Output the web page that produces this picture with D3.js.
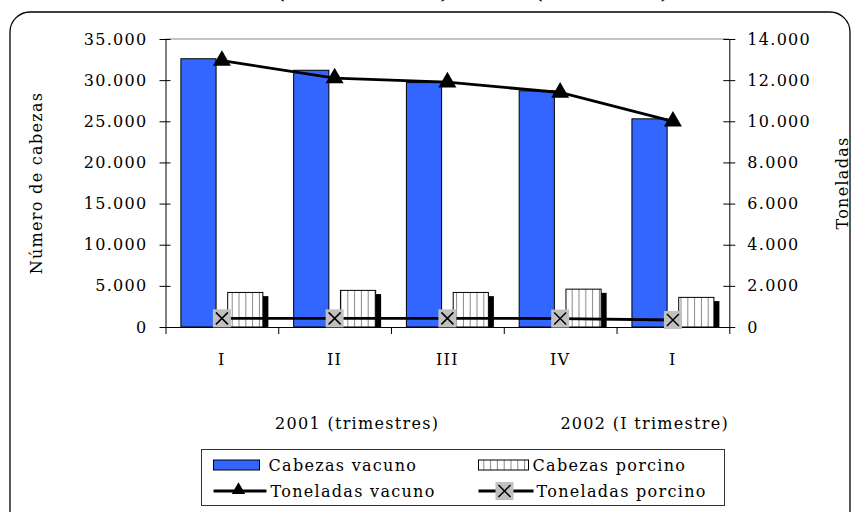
<!DOCTYPE html>
<html><head><meta charset="utf-8">
<script src="https://cdn.jsdelivr.net/npm/d3@7"></script>
<style>
body{margin:0;background:#fff}
text{font-family:"DejaVu Serif",serif;font-size:16px;letter-spacing:1.3px;fill:#000}
</style>
</head><body>
<svg id="c" width="856" height="512"></svg>
<script>
const categories = ["I","II","III","IV","I"];
const cabezasVacuno = [32600,31200,29700,28700,25300];
const cabezasPorcino = [4200,4450,4200,4600,3600];
const toneladasVacuno = [12950,12100,11900,11400,10000];
const toneladasPorcino = [420,420,420,410,340];
const leftTicks = [0,5000,10000,15000,20000,25000,30000,35000];
const rightTicks = [0,2000,4000,6000,8000,10000,12000,14000];
const groupLabels = ["2001 (trimestres)","2002 (I trimestre)"];
const groupPos = [1.7,4.25];
const seriesNames = ["Cabezas vacuno","Cabezas porcino","Toneladas vacuno","Toneladas porcino"];
const leftTitle = "Número de cabezas";
const rightTitle = "Toneladas";
const titleParts = ["Faenas de vacuno ","(número de cabezas)"," de carne ","(toneladas)"];

const svg = d3.select("#c");
const L = 165.5, R = 729.3, T = 39, B = 327;
const loc = d3.formatLocale({decimal:",",thousands:".",grouping:[3],currency:["",""]});
const fmt = loc.format(",");

const x = d3.scaleBand().domain(d3.range(categories.length)).range([L,R]).padding(0);
const xLin = d3.scaleLinear().domain([0,categories.length]).range([L,R]);
const inner = d3.scaleBand().domain(["v","p"]).range([0,x.bandwidth()]).paddingInner(0.248).paddingOuter(0.329);
const yL = d3.scaleLinear().domain([0,35000]).range([B,T]);
const yR = d3.scaleLinear().domain([0,14000]).range([B,T]);

// defs
const defs = svg.append("defs");
const pat = defs.append("pattern").attr("id","vl").attr("patternUnits","userSpaceOnUse")
  .attr("width",6.8).attr("height",10).attr("x",1.5);
pat.append("rect").attr("width",6.8).attr("height",10).attr("fill","#fff");
pat.append("line").attr("x1",6.3).attr("x2",6.3).attr("y1",0).attr("y2",10).attr("stroke","#8a8a8a").attr("stroke-width",1);

// chart border
svg.append("rect").attr("x",10).attr("y",12).attr("width",840).attr("height",530).attr("rx",20)
  .attr("fill","none").attr("stroke","#000").attr("stroke-width",1.3);

// title (cut off at the top edge as in the original)
const tStyle = s => s.style("font-weight","bold").style("font-size","16px").style("letter-spacing","0.6px");
svg.append("text").attr("x",276).attr("y",-1.5).attr("text-anchor","end").call(tStyle).text(titleParts[0]);
const tt = svg.append("text").attr("y",-1.5).call(tStyle);
tt.append("tspan").attr("x",277).attr("textLength",172).attr("lengthAdjust","spacing").text(titleParts[1]);
tt.append("tspan").text(titleParts[2]);
tt.append("tspan").attr("x",535).attr("textLength",134).attr("lengthAdjust","spacing").text(titleParts[3]);

// top gridline
svg.append("line").attr("x1",L).attr("x2",R).attr("y1",yL(35000)).attr("y2",yL(35000))
  .attr("stroke","#888").attr("stroke-width",1);

// bars vacuno
svg.append("g").selectAll("rect").data(cabezasVacuno).join("rect")
  .attr("x",(d,i)=>x(i)+inner("v")).attr("width",inner.bandwidth())
  .attr("y",d=>yL(d)).attr("height",d=>yL(0)-yL(d))
  .attr("fill","#3366FF").attr("stroke","#000").attr("stroke-width",1);

// porcino shadows + bars
svg.append("g").selectAll("rect").data(cabezasPorcino).join("rect")
  .attr("x",(d,i)=>x(i)+inner("p")+inner.bandwidth()).attr("width",5.5)
  .attr("y",d=>yL(d)+3.7).attr("height",d=>yL(0)-yL(d)-3.7).attr("fill","#000");
svg.append("g").selectAll("rect").data(cabezasPorcino).join("rect")
  .attr("x",(d,i)=>x(i)+inner("p")).attr("width",inner.bandwidth())
  .attr("y",d=>yL(d)).attr("height",d=>yL(0)-yL(d))
  .attr("fill","url(#vl)").attr("stroke","#000").attr("stroke-width",1);

// axes
const axL = svg.append("g").attr("transform",`translate(${L},0)`)
  .call(d3.axisLeft(yL).tickValues(leftTicks).tickFormat(fmt).tickSizeInner(6).tickSizeOuter(0).tickPadding(12));
axL.selectAll(".tick line").attr("x1",5);
const axR = svg.append("g").attr("transform",`translate(${R},0)`)
  .call(d3.axisRight(yR).tickValues(rightTicks).tickFormat(fmt).tickSizeInner(6).tickSizeOuter(0).tickPadding(12));
axR.selectAll(".tick line").attr("x1",-6);
const axB = svg.append("g").attr("transform",`translate(0,${B})`)
  .call(d3.axisBottom(xLin).tickValues(d3.range(categories.length+1)).tickFormat("").tickSizeInner(7).tickSizeOuter(0));
[axL,axR,axB].forEach(a=>{a.selectAll("path,line").attr("stroke","#000").attr("stroke-width",1);
  a.selectAll("text").style("font-family","DejaVu Serif").style("font-size","16px").attr("fill","#000");});

// category labels
svg.append("g").selectAll("text").data(categories).join("text")
  .attr("x",(d,i)=>x(i)+x.bandwidth()/2).attr("y",365).attr("text-anchor","middle").text(d=>d);
svg.append("g").selectAll("text").data(groupLabels).join("text")
  .attr("x",(d,i)=>xLin(groupPos[i])).attr("y",429).attr("text-anchor","middle").text(d=>d);

// axis titles
svg.append("text").attr("transform",`translate(42,${(T+B)/2}) rotate(-90)`).attr("text-anchor","middle").text(leftTitle);
svg.append("text").attr("transform",`translate(848,${(T+B)/2}) rotate(-90)`).attr("text-anchor","middle").text(rightTitle);

// lines
const cx = (d,i)=>x(i)+x.bandwidth()/2;
const lineV = d3.line().x((d,i)=>cx(d,i)).y(d=>yR(d));
svg.append("path").attr("d",lineV(toneladasVacuno)).attr("fill","none").attr("stroke","#000").attr("stroke-width",2.8);
svg.append("path").attr("d",lineV(toneladasPorcino)).attr("fill","none").attr("stroke","#000").attr("stroke-width",2.8);

const tri = d3.symbol(d3.symbolTriangle,140);
svg.append("g").selectAll("path").data(toneladasVacuno).join("path")
  .attr("transform",(d,i)=>`translate(${cx(d,i)},${yR(d)})`).attr("d",tri).attr("fill","#000");

function xMark(g,s){
  g.append("rect").attr("x",-s/2).attr("y",-s/2).attr("width",s).attr("height",s).attr("fill","#c0c0c0");
  const k = s/2-3;
  g.append("path").attr("d",`M${-k},${-k}L${k},${k}M${-k},${k}L${k},${-k}`).attr("stroke","#000").attr("stroke-width",1.5);
}
svg.append("g").selectAll("g").data(toneladasPorcino).join("g")
  .attr("transform",(d,i)=>`translate(${cx(d,i)},${yR(d)})`).each(function(){xMark(d3.select(this),18);});

// legend
const lg = svg.append("g");
lg.append("rect").attr("x",201.5).attr("y",449.5).attr("width",523).attr("height",56)
  .attr("fill","#fff").attr("stroke","#333").attr("stroke-width",1);
const colX = [213.5,478.5], rowY = [465,491], txtX = [268.5,532.5];
// Cabezas vacuno
lg.append("rect").attr("x",colX[0]).attr("y",rowY[0]-5).attr("width",46).attr("height",10)
  .attr("fill","#3366FF").attr("stroke","#000");
lg.append("text").attr("x",txtX[0]).attr("y",rowY[0]+5.5).text(seriesNames[0]);
// Cabezas porcino
lg.append("rect").attr("x",colX[1]).attr("y",rowY[0]-5).attr("width",50).attr("height",10)
  .attr("fill","url(#vl)").attr("stroke","#000");
lg.append("text").attr("x",txtX[1]).attr("y",rowY[0]+5.5).text(seriesNames[1]);
// Toneladas vacuno
lg.append("line").attr("x1",colX[0]).attr("x2",colX[0]+53).attr("y1",rowY[1]).attr("y2",rowY[1]).attr("stroke","#000").attr("stroke-width",2.8);
lg.append("path").attr("transform",`translate(${colX[0]+25},${rowY[1]-1})`).attr("d",d3.symbol(d3.symbolTriangle,80)).attr("fill","#000");
lg.append("text").attr("x",txtX[0]+2).attr("y",rowY[1]+5.5).text(seriesNames[2]);
// Toneladas porcino
lg.append("line").attr("x1",colX[1]).attr("x2",colX[1]+55).attr("y1",rowY[1]).attr("y2",rowY[1]).attr("stroke","#000").attr("stroke-width",2.8);
const xm = lg.append("g").attr("transform",`translate(${colX[1]+26},${rowY[1]})`); xMark(xm,18);
lg.append("text").attr("x",txtX[1]+4).attr("y",rowY[1]+5.5).text(seriesNames[3]);
</script>
</body></html>
